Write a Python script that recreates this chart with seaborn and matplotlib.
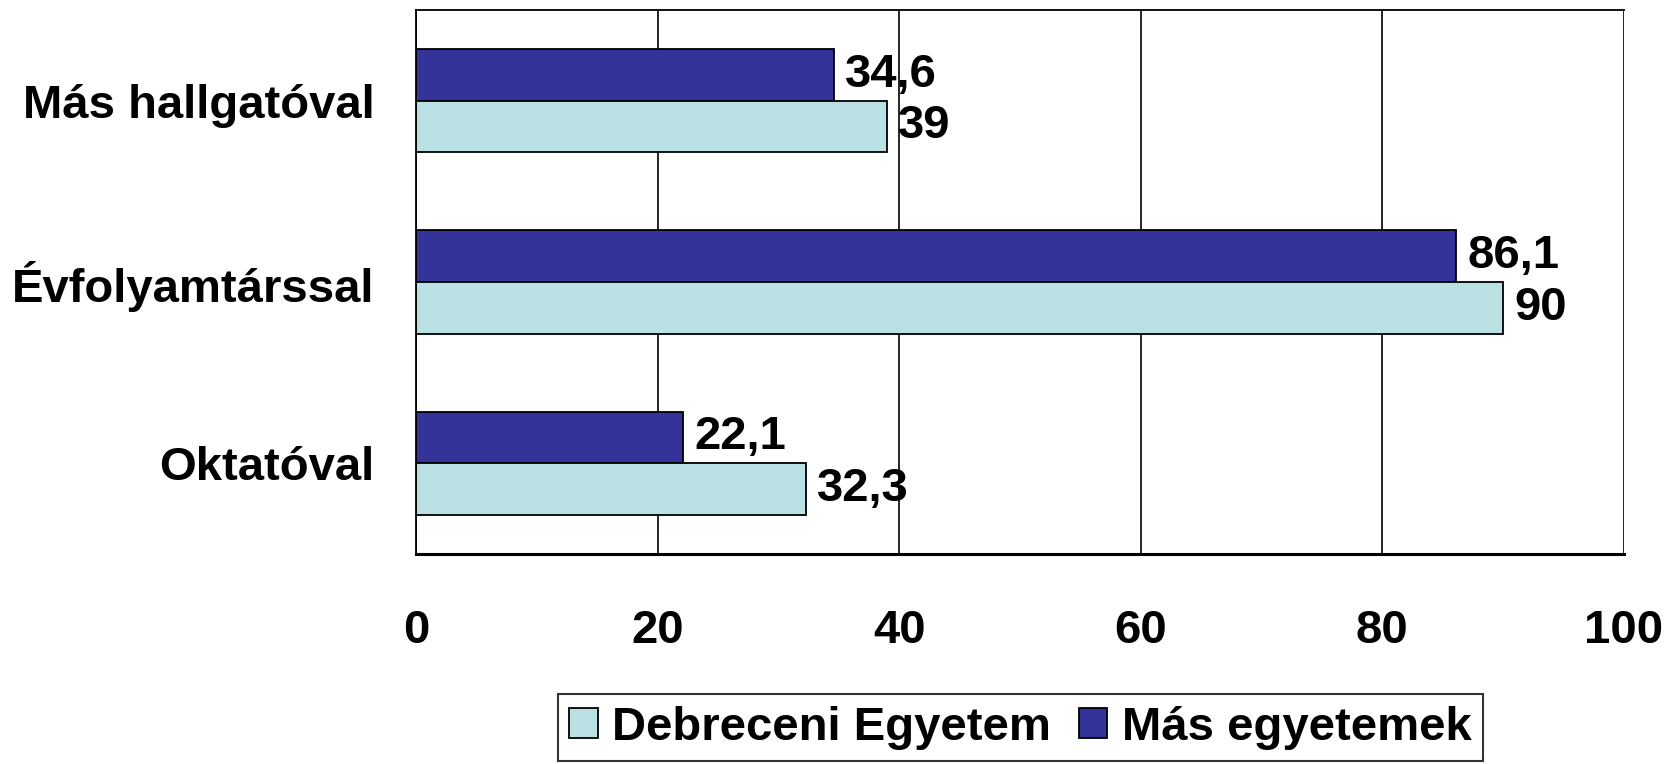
import matplotlib
matplotlib.use("Agg")
import matplotlib.pyplot as plt
from matplotlib.patches import Patch
import pandas as pd
import seaborn as sns

# Data
categories = ["Más hallgatóval", "Évfolyamtárssal", "Oktatóval"]
mas_egyetemek = [34.6, 86.1, 22.1]
debreceni = [39, 90, 32.3]
series_names = ["Debreceni Egyetem", "Más egyetemek"]
x_ticks = [0, 20, 40, 60, 80, 100]

colors = {"Debreceni Egyetem": "#BBE0E3", "Más egyetemek": "#333399"}

df = pd.DataFrame({
    "kat": categories * 2,
    "ertek": mas_egyetemek + debreceni,
    "sorozat": ["Más egyetemek"] * 3 + ["Debreceni Egyetem"] * 3,
})

sns.set_style("white")
plt.rcParams["font.family"] = ["Liberation Sans", "DejaVu Sans"]
plt.rcParams["font.weight"] = "bold"
plt.rcParams["text.color"] = "black"
plt.rcParams["xtick.color"] = "black"
plt.rcParams["ytick.color"] = "black"

FS = 34

fig = plt.figure(figsize=(16.81, 7.64), dpi=100)
ax = fig.add_axes([0.2475, 0.275, 0.7185, 0.712])

sns.barplot(data=df, y="kat", x="ertek", hue="sorozat", order=categories,
            hue_order=["Más egyetemek", "Debreceni Egyetem"], palette=colors,
            saturation=1, orient="h", width=0.57, edgecolor="black", linewidth=1.3,
            legend=False, ax=ax)

def fmt(v):
    s = f"{v:g}"
    return s.replace(".", ",")

for cont, vals in zip(ax.containers, [mas_egyetemek, debreceni]):
    ax.bar_label(cont, labels=[fmt(v) for v in vals], padding=8,
                 fontsize=FS, fontweight="bold", color="black")

ax.set_xlim(0, 100)
ax.set_ylim(2.5, -0.5)
ax.set_xticks(x_ticks)
ax.set_xticklabels([str(t) for t in x_ticks], fontsize=FS, fontweight="bold")
ax.set_yticks(range(len(categories)))
ax.set_yticklabels(categories, fontsize=FS, fontweight="bold")
ax.set_yticks([-0.5, 0.5, 1.5, 2.5], minor=True)
ax.tick_params(axis="y", which="major", length=0, pad=30)
ax.tick_params(axis="y", which="minor", length=10, width=1.3, direction="out", color="black")
ax.tick_params(axis="x", length=10, width=1.3, direction="out", color="black", pad=30)
ax.set_xlabel("")
ax.set_ylabel("")

ax.grid(axis="x", color="black", linewidth=1.2)
ax.set_axisbelow(True)
for side in ["left", "top", "right"]:
    ax.spines[side].set_color("black")
    ax.spines[side].set_linewidth(1.3)
ax.spines["right"].set_visible(False)
ax.spines["bottom"].set_color("black")
ax.spines["bottom"].set_linewidth(2.2)

handles = [Patch(facecolor=colors[n], edgecolor="black", linewidth=1.3) for n in series_names]
leg = fig.legend(handles, series_names, loc="upper center", bbox_to_anchor=(0.607, 0.092),
                 ncol=2, frameon=True, fancybox=False,
                 handlelength=0.6, handleheight=0.6, handletextpad=0.3,
                 columnspacing=0.6, borderpad=0.25, borderaxespad=0,
                 prop={"weight": "bold", "size": FS})
leg.get_frame().set_edgecolor("black")
leg.get_frame().set_linewidth(1.5)

fig.savefig("out.png", dpi=100)
